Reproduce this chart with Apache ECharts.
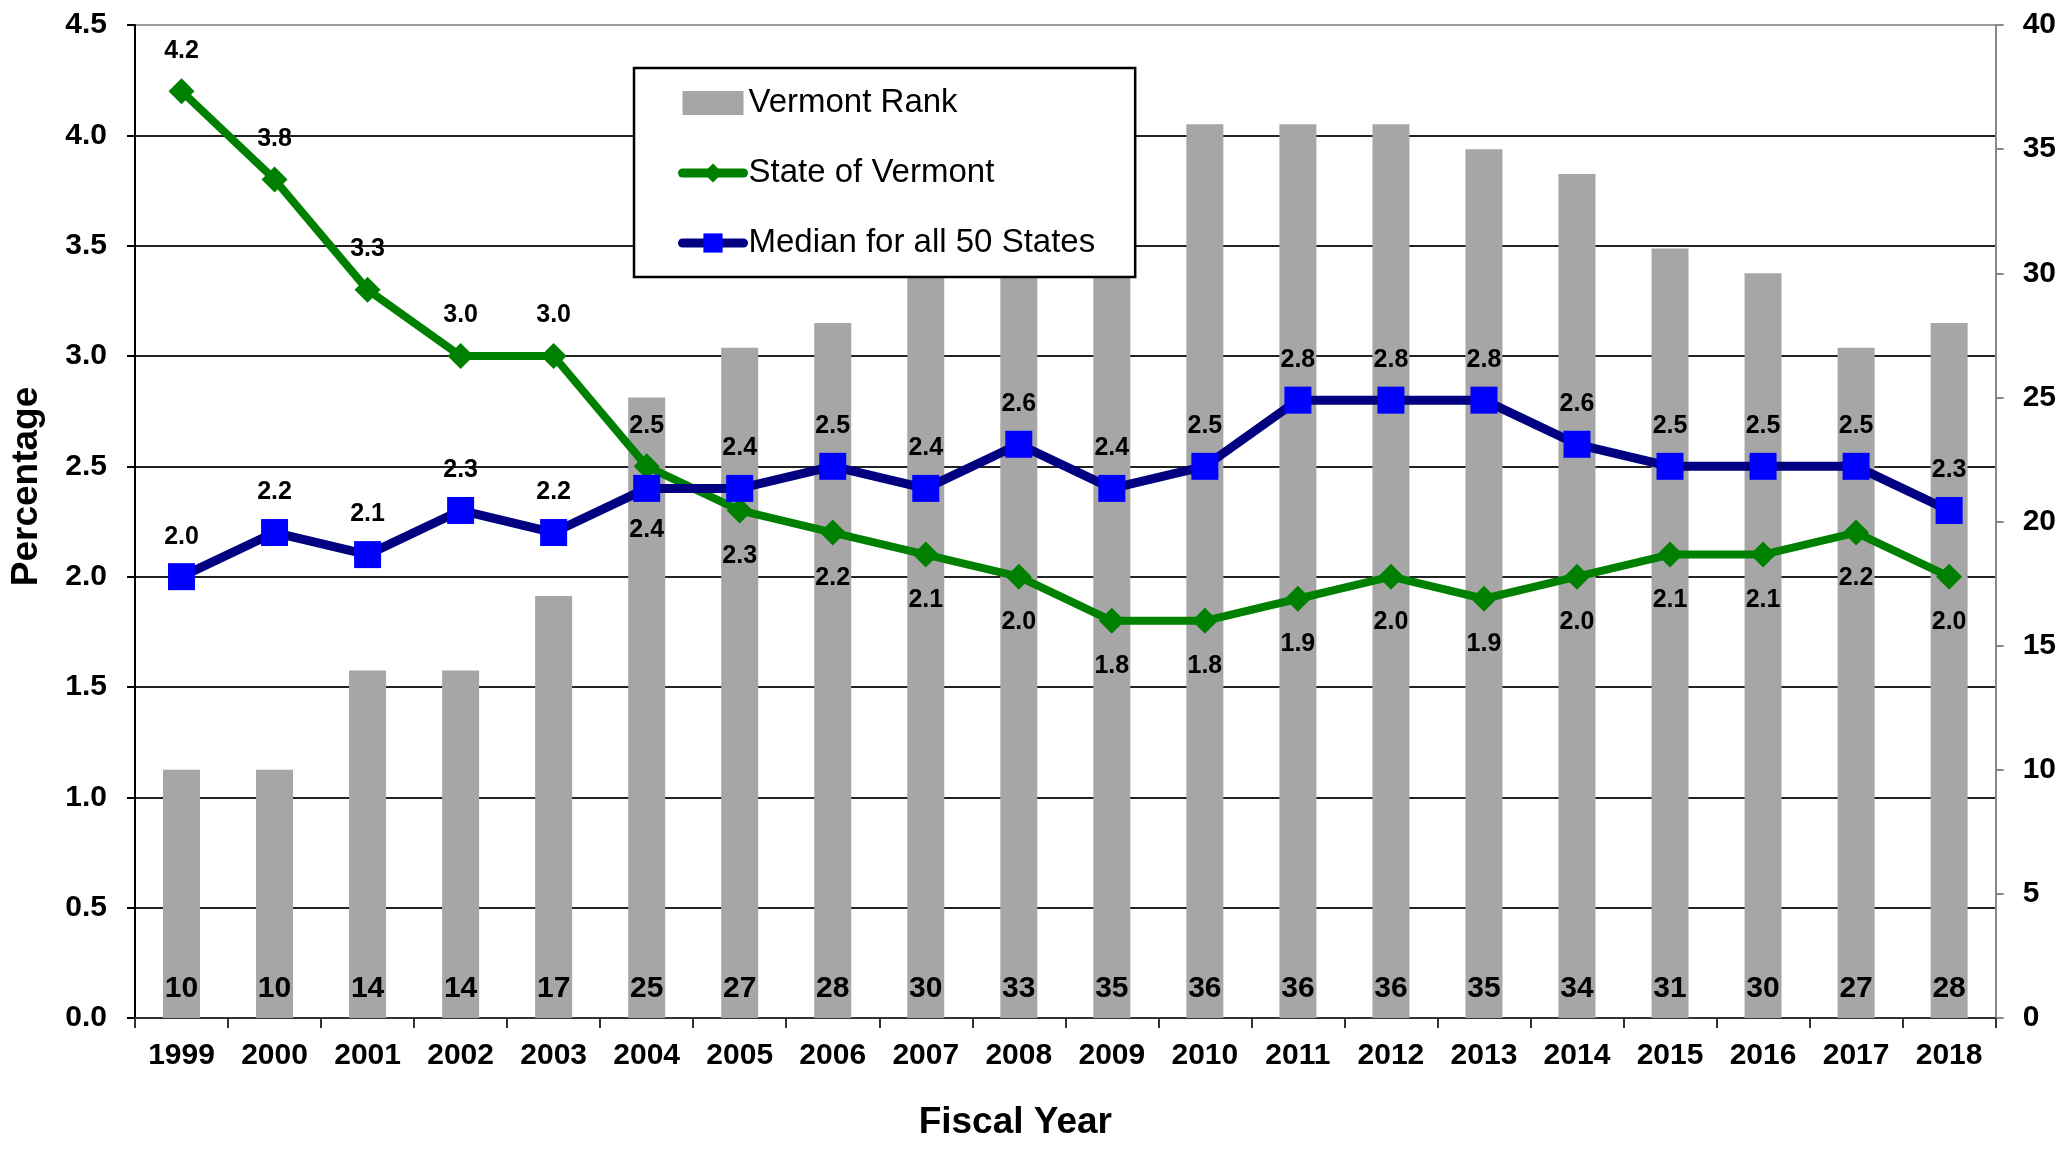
<!DOCTYPE html>
<html>
<head>
<meta charset="utf-8">
<title>Vermont Rank</title>
<script src="https://cdn.jsdelivr.net/npm/echarts@6/dist/echarts.min.js"></script>
<style>
  html, body { margin: 0; padding: 0; background: #fff; }
  #chart { width: 2059px; height: 1152px; }
</style>
</head>
<body>
<div id="chart"></div>
<script>
  var years = ['1999', '2000', '2001', '2002', '2003', '2004', '2005', '2006', '2007', '2008',
    '2009', '2010', '2011', '2012', '2013', '2014', '2015', '2016', '2017', '2018'];
  var vermontRank = [10, 10, 14, 14, 17, 25, 27, 28, 30, 33, 35, 36, 36, 36, 35, 34, 31, 30, 27, 28];
  var stateOfVermont = [4.2, 3.8, 3.3, 3.0, 3.0, 2.5, 2.3, 2.2, 2.1, 2.0, 1.8, 1.8, 1.9, 2.0, 1.9, 2.0, 2.1, 2.1, 2.2, 2.0];
  var medianAllStates = [2.0, 2.2, 2.1, 2.3, 2.2, 2.4, 2.4, 2.5, 2.4, 2.6, 2.4, 2.5, 2.8, 2.8, 2.8, 2.6, 2.5, 2.5, 2.5, 2.3];

  var FONT = '"Liberation Sans", Arial, sans-serif';
  var GREEN = '#008000';
  var NAVY = '#000080';
  var BLUE = '#0000ff';
  var GRAY = '#a6a6a6';

  // label above or below the point, as in the original
  function withLabelPos(values, below, upGap, downGap) {
    return values.map(function(v, i) {
      var isBelow = below(i);
      return {
        value: v,
        label: { position: isBelow ? 'bottom' : 'top', distance: isBelow ? downGap : upGap }
      };
    });
  }

  var lineLabel = {
    show: true,
    color: '#000',
    fontFamily: FONT,
    fontWeight: 'bold',
    fontSize: 25,
    formatter: function(p) { return p.value.toFixed(1); }
  };

  // left split lines: dark, except the top border which is gray
  var splitColors = ['#222', '#222', '#222', '#222', '#222', '#222', '#222', '#222', '#222', '#999'];
  var tickFont = { fontFamily: FONT, fontSize: 30, fontWeight: 'bold', color: '#000' };

  var chart = echarts.init(document.getElementById('chart'));
  chart.setOption({
    animation: false,
    backgroundColor: '#fff',
    textStyle: { fontFamily: FONT },
    grid: { left: 133, right: 62, top: 25, bottom: 134, containLabel: false },
    legend: {
      orient: 'vertical',
      left: 634,
      top: 68,
      padding: [15, 40, 14, 44],
      itemGap: 30,
      itemWidth: 61,
      itemHeight: 24,
      backgroundColor: '#fff',
      borderColor: '#000',
      borderWidth: 2.5,
      textStyle: { fontFamily: FONT, fontSize: 33, color: '#000', lineHeight: 40 },
      data: [
        { name: 'Vermont Rank', icon: 'rect', itemStyle: { color: GRAY } },
        { name: 'State of Vermont', lineStyle: { width: 9, cap: 'round', color: GREEN } },
        { name: 'Median for all 50 States', lineStyle: { width: 9, cap: 'round', color: NAVY } }
      ]
    },
    xAxis: {
      type: 'category',
      data: years,
      name: 'Fiscal Year',
      nameLocation: 'middle',
      nameGap: 86,
      nameTextStyle: { fontFamily: FONT, fontSize: 37, fontWeight: 'bold', color: '#000', padding: [0, 100, 0, 0] },
      axisLine: { lineStyle: { color: '#333', width: 2 } },
      axisTick: { show: true, length: 10, lineStyle: { color: '#333', width: 2 } },
      axisLabel: Object.assign({ margin: 23 }, tickFont)
    },
    yAxis: [{
      type: 'value',
      min: 0,
      max: 4.5,
      interval: 0.5,
      name: 'Percentage',
      nameLocation: 'middle',
      nameGap: 90,
      nameRotate: 90,
      nameTextStyle: { fontFamily: FONT, fontSize: 37, fontWeight: 'bold', color: '#000', padding: [0, 0, 0, 70] },
      axisLine: { show: true, lineStyle: { color: '#000', width: 2 } },
      axisTick: { show: true, length: 8, lineStyle: { color: '#000', width: 2 } },
      axisLabel: Object.assign({
        margin: 28,
        formatter: function(v) { return v.toFixed(1); }
      }, tickFont),
      splitLine: { show: true, lineStyle: { color: splitColors, width: 2 } }
    }, {
      type: 'value',
      min: 0,
      max: 40,
      interval: 5,
      position: 'right',
      axisLine: { show: true, lineStyle: { color: '#888', width: 2 } },
      axisTick: { show: true, length: 8, lineStyle: { color: '#888', width: 2 } },
      axisLabel: Object.assign({ margin: 27 }, tickFont),
      splitLine: { show: false }
    }],
    series: [{
      name: 'Vermont Rank',
      type: 'bar',
      yAxisIndex: 1,
      data: vermontRank,
      barWidth: 37,
      itemStyle: { color: GRAY },
      label: {
        show: true,
        position: 'insideBottom',
        distance: 14,
        color: '#000',
        fontFamily: FONT,
        fontWeight: 'bold',
        fontSize: 30
      }
    }, {
      name: 'State of Vermont',
      type: 'line',
      yAxisIndex: 0,
      data: withLabelPos(stateOfVermont, function(i) { return i > 5; }, 15, 20),
      symbol: 'diamond',
      symbolSize: 26,
      itemStyle: { color: GREEN },
      lineStyle: { color: GREEN, width: 8 },
      label: lineLabel
    }, {
      name: 'Median for all 50 States',
      type: 'line',
      yAxisIndex: 0,
      data: withLabelPos(medianAllStates, function(i) { return i === 5; }, 14, 16),
      symbol: 'rect',
      symbolSize: 27,
      itemStyle: { color: BLUE },
      lineStyle: { color: NAVY, width: 9 },
      label: lineLabel
    }]
  });
</script>
</body>
</html>
